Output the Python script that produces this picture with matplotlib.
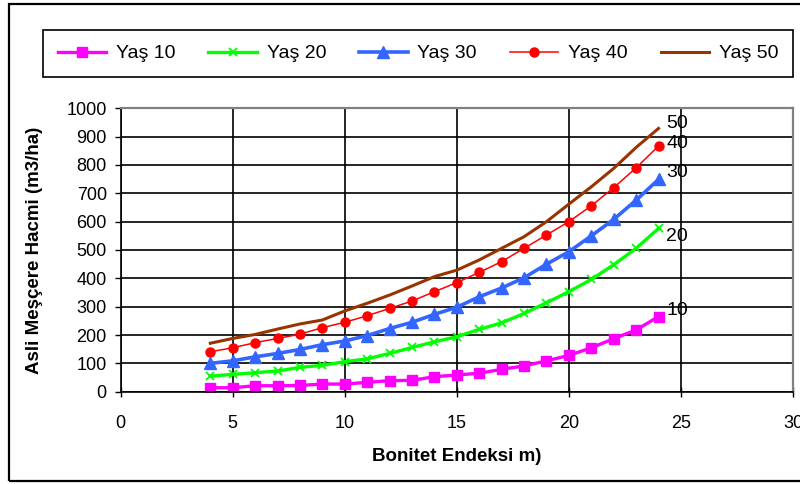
import matplotlib.pyplot as plt
from matplotlib.patches import Rectangle

plt.rcParams['font.family'] = ['Liberation Sans', 'DejaVu Sans']

# bonitet index (m) on the x axis
bonitet = [4, 5, 6, 7, 8, 9, 10, 11, 12, 13, 14, 15, 16, 17, 18, 19, 20, 21, 22, 23, 24]

# main stand volume (m3/ha) for each age
yas_10 = [14, 14, 21, 21, 22, 27, 27, 33, 39, 40, 53, 59, 65, 79, 91, 109, 128, 155, 187, 218, 265]
yas_20 = [55, 61, 67, 73, 86, 93, 106, 116, 135, 156, 176, 194, 220, 243, 276, 314, 353, 396, 448, 506, 576]
yas_30 = [100, 109, 123, 135, 149, 166, 179, 198, 223, 245, 273, 298, 335, 366, 402, 450, 494, 550, 608, 676, 749]
yas_40 = [141, 155, 173, 188, 203, 226, 245, 268, 294, 320, 353, 385, 421, 459, 506, 553, 600, 656, 720, 790, 867]
yas_50 = [171, 188, 202, 221, 239, 253, 285, 312, 341, 373, 406, 429, 465, 506, 547, 600, 662, 723, 788, 862, 929]

legend_names = ['Yaş 10', 'Yaş 20', 'Yaş 30', 'Yaş 40', 'Yaş 50']
end_labels = ['10', '20', '30', '40', '50']
end_label_y = [286, 549, 775, 877, 947]

fig = plt.figure(figsize=(8, 4.84), dpi=100)
ax = fig.add_axes([120.7 / 800, 92.3 / 484, (793 - 120.7) / 800, (391.7 - 108.3) / 484])

ax.plot(bonitet, yas_10, color='#FF00FF', lw=2.4, marker='s', ms=6.5, label=legend_names[0])
ax.plot(bonitet, yas_20, color='#00FF00', lw=2.4, marker='x', ms=6, mew=1.3, label=legend_names[1])
ax.plot(bonitet, yas_30, color='#3366FF', lw=2.6, marker='^', ms=8, label=legend_names[2])
ax.plot(bonitet, yas_40, color='#FF0000', lw=1.1, marker='o', ms=6.5, label=legend_names[3])
ax.plot(bonitet, yas_50, color='#993300', lw=2.2, label=legend_names[4])

for txt, yv in zip(end_labels, end_label_y):
    ax.text(24.35, yv, txt, fontsize=14, ha='left', va='center')

ax.set_xlim(0, 30)
ax.set_ylim(0, 1000)
ax.set_xticks(range(0, 31, 5))
ax.set_yticks(range(0, 1001, 100))
ax.grid(True, color='black', lw=1.2)
ax.set_axisbelow(True)

ax.tick_params(axis='y', direction='out', length=4, width=1, labelsize=13, pad=6)
ax.tick_params(axis='x', direction='inout', length=7, width=1, labelsize=13, pad=13)

for side in ['left', 'bottom']:
    ax.spines[side].set_color('black')
    ax.spines[side].set_linewidth(1.2)
for side in ['top', 'right']:
    ax.spines[side].set_color('#808080')
    ax.spines[side].set_linewidth(1.6)

ax.set_xlabel('Bonitet Endeksi m)', fontsize=13.5, fontweight='bold', labelpad=12)
ax.set_ylabel('Asli Meşçere Hacmi (m3/ha)', fontsize=13.5, fontweight='bold', labelpad=17)

leg = fig.legend(loc='lower left', ncol=5, mode='expand',
                 bbox_to_anchor=(43 / 800, 1 - 77 / 484, 750 / 800, 60 / 484),
                 fontsize=14, handlelength=2.5, handletextpad=0.5, borderpad=0.75,
                 borderaxespad=0, fancybox=False, framealpha=1)
leg.get_frame().set_edgecolor('black')
leg.get_frame().set_linewidth(1.2)

# outer chart border, running off the right edge
fig.patches.append(Rectangle((9 / 800, 3 / 484), 1.0, 477 / 484, transform=fig.transFigure,
                             fill=False, edgecolor='black', lw=1.6))

fig.savefig('out.png', dpi=100)
